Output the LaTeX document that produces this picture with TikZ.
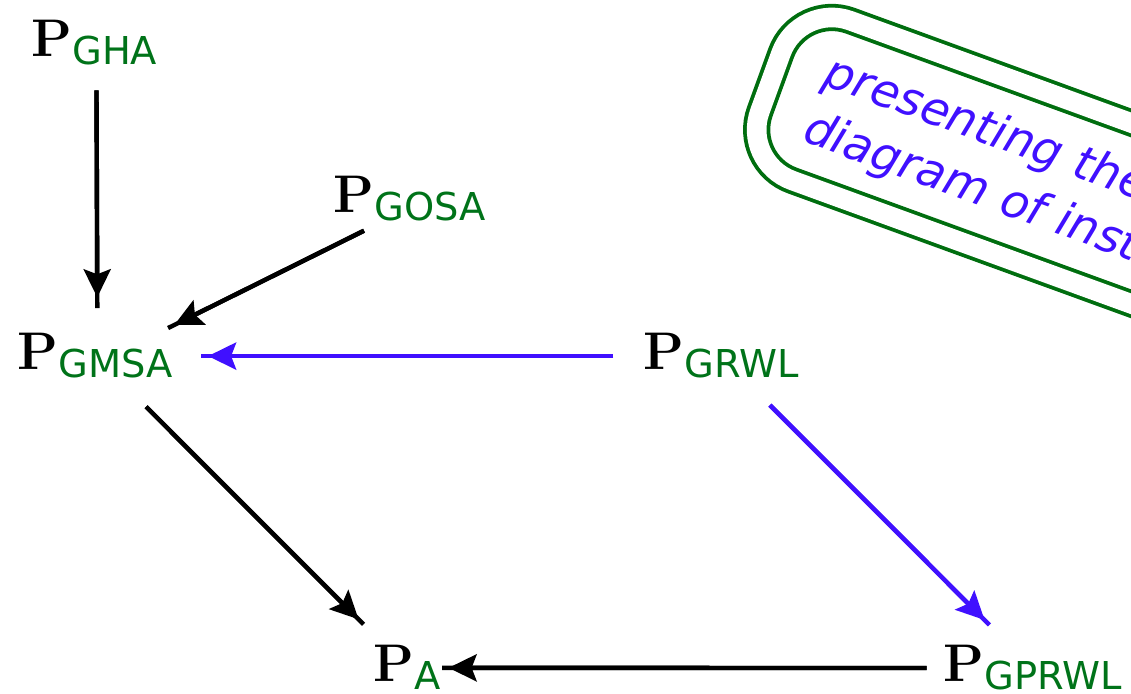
\documentclass[tikz,border=0pt]{standalone}
\usepackage{fontspec}
\newfontfamily\subsf{DejaVu Sans}
\usetikzlibrary{arrows.meta}
\definecolor{subgreen}{RGB}{0,115,25}
\definecolor{boxgreen}{RGB}{0,110,15}
\definecolor{arrblue}{RGB}{64,16,255}
\newcommand{\Pnode}[1]{{\fontsize{26.5pt}{30pt}\selectfont\bfseries P}\raisebox{-4pt}{\color{subgreen}\fontsize{19.2pt}{22pt}\selectfont\subsf #1}}
\begin{document}
\begin{tikzpicture}[x=0.5pt,y=-0.5pt,
  lbl/.style={inner sep=0pt, outer sep=0pt, anchor=base west},
  conn/.style={line width=2.2pt, -{Stealth[length=14pt,width=13.5pt,inset=2.5pt]}},
  poke/.style={postaction={draw,-,shorten >=#1}},
  bluetxt/.style={inner sep=0pt, outer sep=0pt, anchor=base west, rotate=-20, text=arrblue,
    font=\subsf\itshape\fontsize{23.3pt}{28pt}\selectfont},
  notebox/.style={draw=boxgreen, line width=1.9pt, double=white, double distance=9.8pt,
    rounded corners=27pt, rotate=-20, minimum width=290.5pt, minimum height=85pt, inner sep=0pt}
]
\clip (0,0) rectangle (1131,694);
\fill[white] (0,0) rectangle (1131,694);
\useasboundingbox (0,0) rectangle (1131,694);

% note box
\node[notebox] (note) at (1043.5,181.5) {};
\node[bluetxt] (t1) at (821.5,84.4) {presenting the};
\node[bluetxt] (t2) at (801,140.8) {diagram of inst};

% nodes
\node[lbl] (gha)   at (31.5,57)   {\Pnode{GHA}};
\node[lbl] (gosa)  at (333.5,213) {\Pnode{GOSA}};
\node[lbl] (gmsa)  at (18,370)    {\Pnode{GMSA}};
\node[lbl] (grwl)  at (643.5,370) {\Pnode{GRWL}};
\node[lbl] (pa)    at (373.5,682) {\Pnode{A}};
\node[lbl] (gprwl) at (943.5,682) {\Pnode{GPRWL}};

% connectors
\draw[conn, shorten <=23.6pt, shorten >=29.4pt, poke=24pt]
  ([xshift=1pt]gha.center) -- ([xshift=1pt]gmsa.center);
\draw[conn, shorten <=25.4pt, shorten >=44pt, poke=40.5pt]
  ([yshift=-4.5pt]gosa.center) -- ([yshift=-4pt]gmsa.center);
\draw[conn, arrblue, shorten <=54pt, shorten >=56.3pt, poke=52.8pt]
  (grwl.center) -- (gmsa.center);
\draw[conn, shorten <=35.8pt, shorten >=34.25pt, poke=30.75pt]
  (gmsa.center) -- (pa.center);
\draw[conn, arrblue, shorten <=34.65pt, shorten >=34pt, poke=30.5pt]
  (grwl.center) -- (gprwl.center);
\draw[conn, shorten <=53pt, shorten >=20.8pt, poke=17.6pt]
  (gprwl.center) -- (pa.center);
\end{tikzpicture}
\end{document}
